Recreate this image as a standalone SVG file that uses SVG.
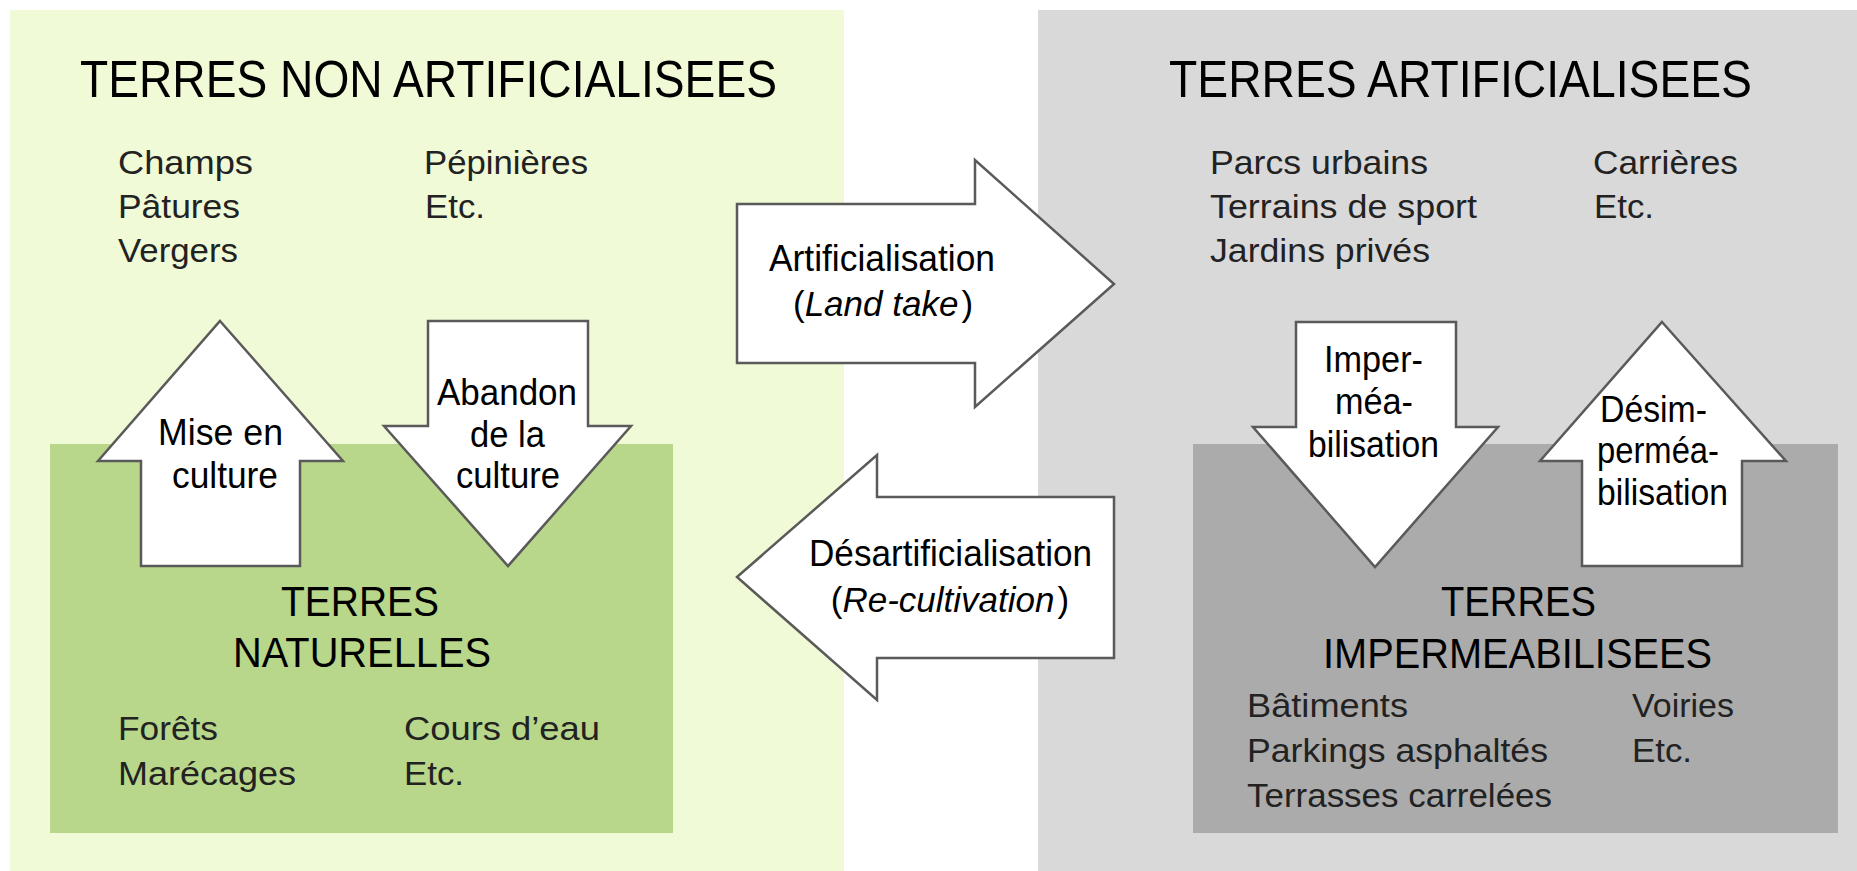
<svg xmlns="http://www.w3.org/2000/svg" width="1857" height="871" viewBox="0 0 1857 871">
  <style>
    text { font-family: "Liberation Sans", Arial, Helvetica, sans-serif; fill: #000; }
    .title { font-size: 52px; }
    .sub { font-size: 43px; }
    .item { font-size: 34px; fill: #222222; }
    .lbl { font-size: 37px; }
    .par { font-size: 35px; text-anchor: middle; }
    .arrow { fill: #ffffff; stroke: #5a5a5a; stroke-width: 2.5; stroke-linejoin: miter; }
  </style>

  <rect x="0" y="0" width="1857" height="871" fill="#ffffff"/>

  <g id="terres-non-artificialisees">
    <rect x="10" y="10" width="834" height="861" fill="#f0fad6"/>
    <text class="title" x="80" y="97" textLength="697" lengthAdjust="spacingAndGlyphs">TERRES NON ARTIFICIALISEES</text>
    <text class="item" x="118" y="174" textLength="135" lengthAdjust="spacingAndGlyphs">Champs</text>
    <text class="item" x="118" y="218" textLength="122" lengthAdjust="spacingAndGlyphs">Pâtures</text>
    <text class="item" x="118" y="262" textLength="120" lengthAdjust="spacingAndGlyphs">Vergers</text>
    <text class="item" x="424" y="174" textLength="164" lengthAdjust="spacingAndGlyphs">Pépinières</text>
    <text class="item" x="425" y="218" textLength="60" lengthAdjust="spacingAndGlyphs">Etc.</text>
  </g>

  <g id="terres-naturelles">
    <rect x="50" y="444" width="623" height="389" fill="#b8d78b"/>
    <text class="sub" x="281" y="616" textLength="158" lengthAdjust="spacingAndGlyphs">TERRES</text>
    <text class="sub" x="233" y="667" textLength="258" lengthAdjust="spacingAndGlyphs">NATURELLES</text>
    <text class="item" x="118" y="740" textLength="100" lengthAdjust="spacingAndGlyphs">Forêts</text>
    <text class="item" x="118" y="785" textLength="178" lengthAdjust="spacingAndGlyphs">Marécages</text>
    <text class="item" x="404" y="740" textLength="196" lengthAdjust="spacingAndGlyphs">Cours d’eau</text>
    <text class="item" x="404" y="785" textLength="60" lengthAdjust="spacingAndGlyphs">Etc.</text>
  </g>

  <g id="terres-artificialisees">
    <rect x="1038" y="10" width="819" height="861" fill="#d9d9d9"/>
    <text class="title" x="1169" y="97" textLength="583" lengthAdjust="spacingAndGlyphs">TERRES ARTIFICIALISEES</text>
    <text class="item" x="1210" y="174" textLength="218" lengthAdjust="spacingAndGlyphs">Parcs urbains</text>
    <text class="item" x="1210" y="218" textLength="267" lengthAdjust="spacingAndGlyphs">Terrains de sport</text>
    <text class="item" x="1210" y="262" textLength="220" lengthAdjust="spacingAndGlyphs">Jardins privés</text>
    <text class="item" x="1593" y="174" textLength="145" lengthAdjust="spacingAndGlyphs">Carrières</text>
    <text class="item" x="1594" y="218" textLength="60" lengthAdjust="spacingAndGlyphs">Etc.</text>
  </g>

  <g id="terres-impermeabilisees">
    <rect x="1193" y="444" width="645" height="389" fill="#ababab"/>
    <text class="sub" x="1441" y="616" textLength="155" lengthAdjust="spacingAndGlyphs">TERRES</text>
    <text class="sub" x="1323" y="668" textLength="389" lengthAdjust="spacingAndGlyphs">IMPERMEABILISEES</text>
    <text class="item" x="1247" y="717" textLength="161" lengthAdjust="spacingAndGlyphs">Bâtiments</text>
    <text class="item" x="1247" y="762" textLength="301" lengthAdjust="spacingAndGlyphs">Parkings asphaltés</text>
    <text class="item" x="1247" y="807" textLength="305" lengthAdjust="spacingAndGlyphs">Terrasses carrelées</text>
    <text class="item" x="1632" y="717" textLength="102" lengthAdjust="spacingAndGlyphs">Voiries</text>
    <text class="item" x="1632" y="762" textLength="60" lengthAdjust="spacingAndGlyphs">Etc.</text>
  </g>

  <g id="connectors">
    <g id="artificialisation">
      <polygon class="arrow" points="737,204 975,204 975,160 1114,284 975,407 975,363 737,363"/>
      <text class="lbl" x="769" y="271" textLength="226" lengthAdjust="spacingAndGlyphs">Artificialisation</text>
      <text class="par" x="883" y="316">(<tspan font-style="italic">Land take</tspan><tspan dx="3">)</tspan></text>
    </g>
    <g id="desartificialisation">
      <polygon class="arrow" points="737,577 877,455 877,497 1114,497 1114,658 877,658 877,700"/>
      <text class="lbl" x="809" y="566" textLength="283" lengthAdjust="spacingAndGlyphs">Désartificialisation</text>
      <text class="par" x="950" y="612">(<tspan font-style="italic">Re-cultivation</tspan><tspan dx="3">)</tspan></text>
    </g>
    <g id="mise-en-culture">
      <polygon class="arrow" points="220,321 343,461 300,461 300,566 141,566 141,461 98,461"/>
      <text class="lbl" x="158" y="445" textLength="125" lengthAdjust="spacingAndGlyphs">Mise en</text>
      <text class="lbl" x="172" y="488" textLength="106" lengthAdjust="spacingAndGlyphs">culture</text>
    </g>
    <g id="abandon-de-la-culture">
      <polygon class="arrow" points="428,321 588,321 588,426 631,426 508,566 384,426 428,426"/>
      <text class="lbl" x="437" y="405" textLength="140" lengthAdjust="spacingAndGlyphs">Abandon</text>
      <text class="lbl" x="470" y="447" textLength="75" lengthAdjust="spacingAndGlyphs">de la</text>
      <text class="lbl" x="456" y="488" textLength="104" lengthAdjust="spacingAndGlyphs">culture</text>
    </g>
    <g id="impermeabilisation">
      <polygon class="arrow" points="1296,322 1456,322 1456,427 1498,427 1375,567 1253,427 1296,427"/>
      <text class="lbl" x="1324" y="372" textLength="99" lengthAdjust="spacingAndGlyphs">Imper-</text>
      <text class="lbl" x="1335" y="414" textLength="78" lengthAdjust="spacingAndGlyphs">méa-</text>
      <text class="lbl" x="1308" y="457" textLength="131" lengthAdjust="spacingAndGlyphs">bilisation</text>
    </g>
    <g id="desimpermeabilisation">
      <polygon class="arrow" points="1662,322 1786,461 1742,461 1742,566 1582,566 1582,461 1540,461"/>
      <text class="lbl" x="1600" y="422" textLength="107" lengthAdjust="spacingAndGlyphs">Désim-</text>
      <text class="lbl" x="1597" y="463" textLength="122" lengthAdjust="spacingAndGlyphs">perméa-</text>
      <text class="lbl" x="1597" y="505" textLength="131" lengthAdjust="spacingAndGlyphs">bilisation</text>
    </g>
  </g>
</svg>
